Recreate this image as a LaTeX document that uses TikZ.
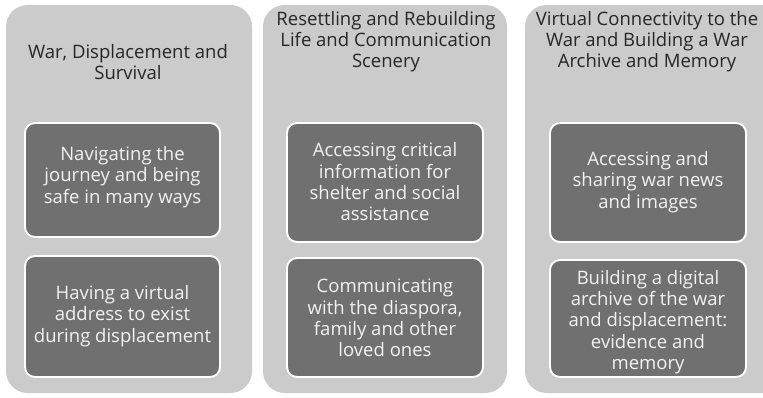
\documentclass[tikz,border=0pt]{standalone}
\usepackage{fontspec}
\setmainfont{Open Sans}
\usepackage{tikz}

\definecolor{colgray}{RGB}{203,203,203}
\definecolor{cardgray}{RGB}{112,112,112}
\definecolor{headtext}{RGB}{38,38,38}
\definecolor{cardtext}{RGB}{242,242,242}

\begin{document}
\begin{tikzpicture}
	[x = 0.03cm, y = -0.03cm,
	 column/.style = {fill=colgray, rounded corners=0.65cm},
	 card/.style = {fill=cardgray, draw=white, line width=1.6pt, rounded corners=0.3cm},
	 head/.style = {text=headtext, align=center, font=\fontsize{15.8}{17.8}\selectfont},
	 label/.style = {text=cardtext, align=center, font=\fontsize{15.8}{18.2}\selectfont}]
\useasboundingbox (0,0) rectangle (763,398);
\clip (0,0) rectangle (763,398);

% the three columns
\fill[column] (6,5) rectangle (252,393);
\fill[column] (263,5) rectangle (507,393);
\fill[column] (525,5) rectangle (788,393);

% cards
\draw[card] (25,123) rectangle (220,237);
\draw[card] (25,256) rectangle (220,377);
\draw[card] (287,123) rectangle (483,242);
\draw[card] (287,258) rectangle (483,377);
\draw[card] (550,123) rectangle (746,242);
\draw[card] (550,260) rectangle (746,377);

% headings
\node[head] (h_1) at (128,62) {War, Displacement and\\Survival};
\node[head] (h_2) at (386,42) {Resettling and Rebuilding\\Life and Communication\\Scenery};
\node[head] (h_3) at (647,42) {Virtual Connectivity to the\\War and Building a War\\Archive and Memory};

% card texts
\node[label] (c_11) at (122.5,177) {Navigating the\\journey and being\\safe in many ways};
\node[label] (c_12) at (122.5,316) {Having a virtual\\address to exist\\during displacement};
\node[label] (c_21) at (385,182) {Accessing critical\\information for\\shelter and social\\assistance};
\node[label] (c_22) at (385,318) {Communicating\\with the diaspora,\\family and other\\loved ones};
\node[label] (c_31) at (648,182) {Accessing and\\sharing war news\\and images};
\node[label] (c_32) at (648,322) {Building a digital\\archive of the war\\and displacement:\\evidence and\\memory};

\end{tikzpicture}
\end{document}
